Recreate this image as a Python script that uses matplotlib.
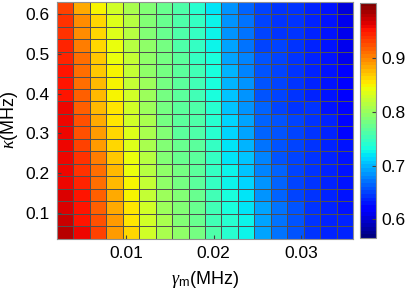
import numpy as np
import matplotlib.pyplot as plt

plt.rcParams['font.family'] = ['Liberation Sans', 'DejaVu Sans']
plt.rcParams['mathtext.fontset'] = 'custom'
plt.rcParams['mathtext.rm'] = 'Liberation Sans'
plt.rcParams['mathtext.it'] = 'Liberation Serif:italic'

# cell edges (MHz)
gamma_m = np.linspace(0.002, 0.036, 19)
kappa = np.linspace(0.035, 0.632, 20)

# fidelity per column (gamma_m), listed from top row (large kappa) to bottom row
cols = [
    [.935, .937, .940, .944, .947, .950, .953, .955, .956, .957, .958, .959, .960, .961, .962, .964, .968, .975, .978],
    [.887, .896, .898, .905, .908, .912, .914, .916, .921, .924, .926, .932, .938, .942, .946, .950, .953, .955, .957],
    [.847, .860, .862, .866, .868, .870, .875, .878, .880, .885, .888, .891, .905, .909, .913, .917, .921, .925, .929],
    [.828, .835, .838, .840, .845, .847, .849, .851, .856, .859, .862, .865, .872, .876, .879, .882, .886, .889, .894],
    [.807, .812, .814, .816, .820, .822, .824, .826, .830, .832, .834, .836, .842, .845, .848, .851, .854, .857, .862],
    [.785, .788, .790, .792, .795, .797, .799, .801, .805, .807, .809, .811, .815, .818, .821, .823, .826, .829, .832],
    [.775, .776, .777, .778, .779, .780, .781, .782, .783, .784, .785, .786, .790, .793, .796, .802, .805, .808, .811],
    [.760, .761, .762, .763, .764, .765, .766, .767, .768, .769, .770, .771, .775, .778, .781, .785, .788, .790, .793],
    [.742, .744, .746, .748, .750, .752, .754, .756, .758, .760, .762, .764, .766, .768, .770, .772, .774, .776, .778],
    [.722, .724, .726, .728, .730, .732, .734, .736, .738, .740, .742, .744, .746, .748, .750, .752, .754, .756, .758],
    [.684, .686, .688, .692, .695, .698, .701, .705, .709, .712, .715, .718, .722, .726, .729, .732, .735, .737, .739],
    [.667, .669, .671, .673, .676, .679, .682, .685, .688, .691, .694, .698, .703, .708, .713, .717, .720, .723, .725],
    [.650, .651, .652, .653, .655, .657, .659, .661, .663, .665, .667, .670, .675, .680, .684, .687, .690, .692, .694],
    [.645, .646, .647, .648, .649, .650, .651, .652, .653, .655, .657, .659, .661, .663, .665, .667, .669, .671, .673],
    [.641, .642, .643, .644, .645, .645, .646, .646, .647, .648, .649, .650, .651, .652, .653, .654, .655, .656, .657],
    [.636, .637, .638, .638, .639, .639, .640, .640, .641, .641, .642, .642, .643, .643, .644, .644, .645, .646, .647],
    [.628, .629, .630, .631, .631, .632, .632, .633, .633, .634, .634, .635, .635, .636, .636, .637, .638, .639, .640],
    [.605, .607, .609, .611, .613, .615, .617, .619, .621, .623, .625, .627, .629, .630, .631, .632, .633, .634, .635],
]
F = np.array(cols).T[::-1]  # rows from small kappa upward

fig = plt.figure(figsize=(4.09, 3.01), dpi=100)
ax = fig.add_axes([0.1386, 0.207, 0.7252, 0.7874])
cax = fig.add_axes([0.880, 0.2093, 0.0391, 0.7817])

cmap = plt.get_cmap('jet', 64)
pc = ax.pcolormesh(gamma_m, kappa, F, cmap=cmap, vmin=0.565, vmax=1.004,
                   edgecolors='#505050', linewidth=0.7)
ax.set_xlim(gamma_m[0], gamma_m[-1])
ax.set_ylim(kappa[0], kappa[-1])
ax.set_xticks([0.01, 0.02, 0.03])
ax.set_xticklabels(['0.01', '0.02', '0.03'])
ax.set_yticks([0.1, 0.2, 0.3, 0.4, 0.5, 0.6])
ax.set_yticklabels(['0.1', '0.2', '0.3', '0.4', '0.5', '0.6'])
ax.tick_params(direction='in', length=3, labelsize=12.5, color='#404040', pad=5)
for s in ax.spines.values():
    s.set_color('#909090')
ax.set_xlabel(r'$\gamma_{\rm m}$(MHz)', fontsize=13, labelpad=6)
ax.set_ylabel(r'$\kappa$(MHz)', fontsize=13, labelpad=4)

cb = fig.colorbar(pc, cax=cax)
cb.set_ticks([0.6, 0.7, 0.8, 0.9])
cb.set_ticklabels(['0.6', '0.7', '0.8', '0.9'])
cb.ax.tick_params(direction='in', length=3, labelsize=12.5, color='#404040', pad=4)
cb.outline.set_edgecolor('#909090')

fig.savefig('out.png', dpi=100)
